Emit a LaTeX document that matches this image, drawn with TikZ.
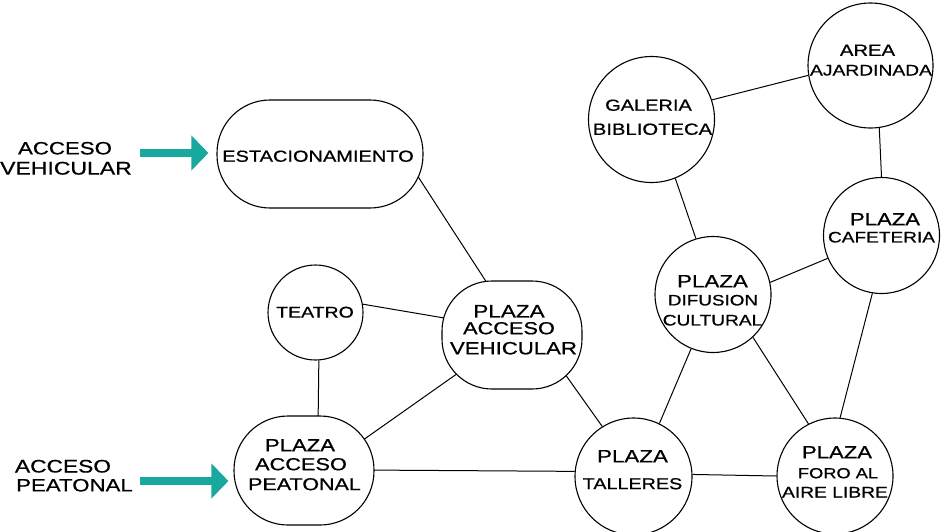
\documentclass[tikz,border=0pt]{standalone}
\usepackage{fontspec}
\newfontfamily\lab[FakeStretch=1.25,FakeBold=0.7]{Liberation Sans}
\usetikzlibrary{arrows.meta,calc}
\pgfdeclarelayer{bg}
\pgfsetlayers{bg,main}
\definecolor{tealc}{RGB}{24,168,158}
\newcommand\mylbl[5]{\node[anchor=base,inner sep=0,font=\lab\fontsize{#4}{#4}\selectfont] (#1) at (#2,{#3+0.358*#4}) {#5};}
\begin{document}
\begin{tikzpicture}[x=1pt,y=-1pt,
  shp/.style={draw=black,fill=white,line width=1.1pt,inner sep=0},
  circ/.style={shp,circle,minimum size=#1},
  rbox/.style={shp,rectangle},
  link/.style={line width=1pt,black},
  acc/.style={tealc,line width=8pt,-{Triangle[length=17pt 0,width=34pt 0]}}]
\useasboundingbox (0,0) rectangle (941,531);

% shapes
\node[rbox,rounded corners=53pt,minimum width=206pt,minimum height=108pt] (est) at (320,154) {};
\node[rbox,rounded corners=50pt,minimum width=140pt,minimum height=108pt] (pav) at (512,335) {};
\node[rbox,rounded corners=54pt,minimum width=140pt,minimum height=109pt] (pap) at (304,470.5) {};
\node[circ=95pt] (tea) at (315.5,312.5) {};
\node[circ=126pt] (gal) at (651.5,119.5) {};
\node[circ=125pt] (area) at (870.5,65.5) {};
\node[circ=116pt] (caf) at (881.5,235.5) {};
\node[circ=116pt] (dif) at (713,294.5) {};
\node[circ=117pt] (tal) at (633.5,476.5) {};
\node[circ=116pt] (foro) at (835,476) {};

% connectors
\begin{pgfonlayer}{bg}
\draw[link] ([shift={(90.5,11)}]est.center) -- ([shift={(-18.5,-42)}]pav.center);
\draw[link] (tea.10) -- ([shift={(-56,-15)}]pav.center);
\draw[link] (tea.-86) -- ([shift={(14,-42.5)}]pap.center);
\draw[link] ([shift={(52,-25.5)}]pap.center) -- ([shift={(-44,31)}]pav.center);
\draw[link] ([shift={(58,-0.5)}]pap.center) -- (tal.175);
\draw[link] ([shift={(48,32)}]pav.center) -- (tal.122);
\draw[link] (tal.64) -- (dif.248);
\draw[link] (tal.2) -- (foro.180);
\draw[link] (dif.-47) -- (foro.117);
\draw[link] (dif.12) -- (caf.203);
\draw[link] (caf.261) -- (foro.85);
\draw[link] (gal.-68) -- (dif.107);
\draw[link] (gal.18) -- (area.189);
\draw[link] (area.-82) -- (caf.90);
\end{pgfonlayer}

% access arrows
\coordinate (a1) at (140,153);
\draw[acc,shorten >=8pt] (a1) -- (a1 -| est.west);
\coordinate (a2) at (140,481);
\draw[acc,shorten >=5pt] (a2) -- (a2 -| pap.west);

% texts
\mylbl{tA1}{65}{148}{17.8}{ACCESO}
\mylbl{tA2}{66}{168}{18.4}{VEHICULAR}
\mylbl{tB1}{63}{466}{18.2}{ACCESO}
\mylbl{tB2}{74.5}{485}{17.8}{PEATONAL}
\mylbl{tE}{318}{156}{16}{ESTACIONAMIENTO}
\mylbl{tT}{315}{312}{15.6}{TEATRO}
\mylbl{tV1}{509}{311}{18}{PLAZA}
\mylbl{tV2}{509}{328}{17.4}{ACCESO}
\mylbl{tV3}{513.5}{348}{17.75}{VEHICULAR}
\mylbl{tP1}{300}{445}{17.7}{PLAZA}
\mylbl{tP2}{301}{464}{17.4}{ACCESO}
\mylbl{tP3}{304.5}{484}{17.2}{PEATONAL}
\mylbl{tG1}{648.5}{105}{16}{GALERIA}
\mylbl{tG2}{652.5}{129}{16.2}{BIBLIOTECA}
\mylbl{tR1}{867.5}{50}{16.2}{AREA}
\mylbl{tR2}{871}{70}{15.4}{AJARDINADA}
\mylbl{tC1}{885}{219}{17.7}{PLAZA}
\mylbl{tC2}{881.5}{237}{15.25}{CAFETERIA}
\mylbl{tD1}{712.5}{281}{17.9}{PLAZA}
\mylbl{tD2}{713}{300}{15.1}{DIFUSION}
\mylbl{tD3}{712.5}{320}{15.3}{CULTURAL}
\mylbl{tL1}{632.5}{456}{17.9}{PLAZA}
\mylbl{tL2}{632.5}{483.5}{15.8}{TALLERES}
\mylbl{tF1}{837}{452}{17.7}{PLAZA}
\mylbl{tF2}{838}{473}{14.6}{FORO AL}
\mylbl{tF3}{835}{492}{15.4}{AIRE LIBRE}
\end{tikzpicture}
\end{document}
